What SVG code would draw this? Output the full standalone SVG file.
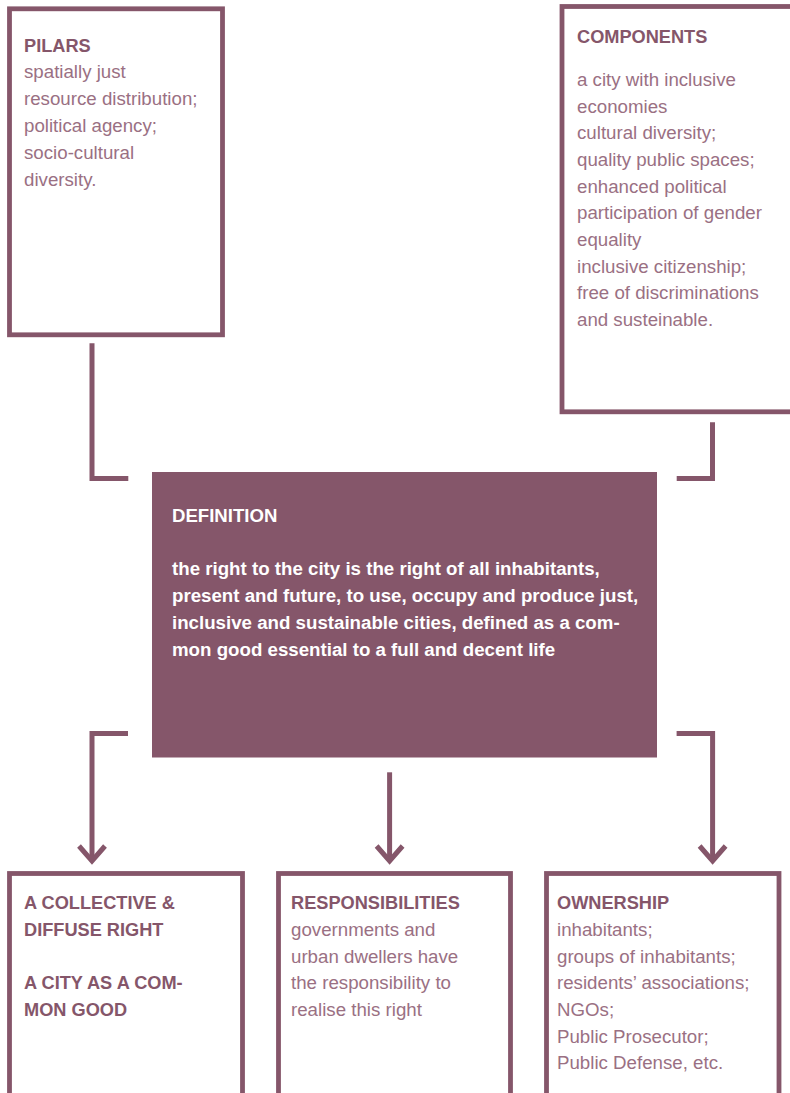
<svg xmlns="http://www.w3.org/2000/svg" width="790" height="1093" viewBox="0 0 790 1093">
<style>
.box{fill:#fff;stroke:#85566a;stroke-width:4.8}
.con{fill:none;stroke:#85566a;stroke-width:5}
.t{font-family:"Liberation Sans",Arial,sans-serif;font-size:18.2px;font-weight:bold;fill:#85566a}
.b{font-family:"Liberation Sans",Arial,sans-serif;font-size:18.7px;fill:#9a7083}
.dt{font-family:"Liberation Sans",Arial,sans-serif;font-size:18.6px;font-weight:bold;fill:#fff}
.db{font-family:"Liberation Sans",Arial,sans-serif;font-size:18.7px;font-weight:bold;fill:#fff}
</style>
<rect width="790" height="1093" fill="#fff"/>
<g id="pilars">
<rect class="box" x="9.5" y="8.8" width="213" height="326"/>
<text class="t" x="24" y="52">PILARS</text>
<text class="b" x="24" y="78">spatially just</text>
<text class="b" x="24" y="105">resource distribution;</text>
<text class="b" x="24" y="132">political agency;</text>
<text class="b" x="24" y="159">socio-cultural</text>
<text class="b" x="24" y="186">diversity.</text>
</g>
<g id="components">
<rect class="box" x="562" y="6.5" width="240" height="405.3"/>
<text class="t" x="577" y="43">COMPONENTS</text>
<text class="b" x="577" y="86">a city with inclusive</text>
<text class="b" x="577" y="113">economies</text>
<text class="b" x="577" y="139">cultural diversity;</text>
<text class="b" x="577" y="166">quality public spaces;</text>
<text class="b" x="577" y="193">enhanced political</text>
<text class="b" x="577" y="219">participation of gender</text>
<text class="b" x="577" y="246">equality</text>
<text class="b" x="577" y="273">inclusive citizenship;</text>
<text class="b" x="577" y="299">free of discriminations</text>
<text class="b" x="577" y="326">and susteinable.</text>
</g>
<g id="definition">
<rect x="152" y="472" width="505" height="285.5" fill="#85566a"/>
<text class="dt" x="172" y="522">DEFINITION</text>
<text class="db" x="172" y="575">the right to the city is the right of all inhabitants,</text>
<text class="db" x="172" y="602">present and future, to use, occupy and produce just,</text>
<text class="db" x="172" y="629">inclusive and sustainable cities, defined as a com-</text>
<text class="db" x="172" y="656">mon good essential to a full and decent life</text>
</g>
<g id="collective">
<rect class="box" x="9.5" y="873.5" width="233" height="240"/>
<text class="t" x="24" y="909">A COLLECTIVE &amp;</text>
<text class="t" x="24" y="936">DIFFUSE RIGHT</text>
<text class="t" x="24" y="989">A CITY AS A COM-</text>
<text class="t" x="24" y="1016">MON GOOD</text>
</g>
<g id="responsibilities">
<rect class="box" x="278.5" y="873.5" width="232" height="240"/>
<text class="t" x="291" y="909">RESPONSIBILITIES</text>
<text class="b" x="291" y="936">governments and</text>
<text class="b" x="291" y="963">urban dwellers have</text>
<text class="b" x="291" y="989">the responsibility to</text>
<text class="b" x="291" y="1016">realise this right</text>
</g>
<g id="ownership">
<rect class="box" x="546.5" y="873.5" width="232.5" height="240"/>
<text class="t" x="557" y="909">OWNERSHIP</text>
<text class="b" x="557" y="936">inhabitants;</text>
<text class="b" x="557" y="963">groups of inhabitants;</text>
<text class="b" x="557" y="989">residents’ associations;</text>
<text class="b" x="557" y="1016">NGOs;</text>
<text class="b" x="557" y="1043">Public Prosecutor;</text>
<text class="b" x="557" y="1069">Public Defense, etc.</text>
</g>
<g id="connectors">
<path class="con" d="M92,343.3 V478.5 H128.3"/>
<path class="con" d="M712.5,422.3 V478.5 H676.7"/>
<path class="con" d="M128,733.5 H92 V860"/>
<path class="con" d="M389.6,772.3 V860"/>
<path class="con" d="M676.6,733.5 H712.6 V860"/>
<polyline class="con" points="79,846 92,861 105,846"/>
<polyline class="con" points="376.6,846 389.6,861 402.6,846"/>
<polyline class="con" points="699.6,846 712.6,861 725.6,846"/>
</g>
</svg>
